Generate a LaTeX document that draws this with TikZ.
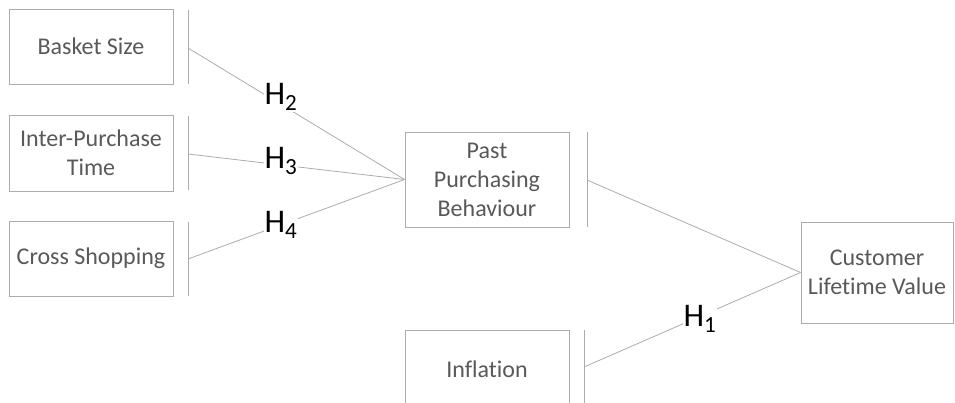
\documentclass[tikz,border=0pt]{standalone}
\usepackage{fontspec}
\setmainfont[Ligatures={NoCommon}]{Carlito}
\begin{document}
\begin{tikzpicture}[x=1pt,y=-1pt,
  box/.style={draw=gray!65,line width=0.9pt,fill=white,inner sep=0pt,
    text=black!65,align=center,font=\fontsize{24}{29}\selectfont},
  bar/.style={draw=gray!65,line width=0.9pt},
  link/.style={draw=gray!65,line width=0.8pt},
  hyp/.style={fill=white,inner sep=1pt,font=\fontsize{33}{33}\selectfont,text=black}]
\useasboundingbox (0,0) rectangle (955,403);
% construct boxes
\node[box,minimum width=164pt,minimum height=75pt] (bs) at (91,46.5) {Basket Size};
\node[box,minimum width=164pt,minimum height=76pt] (ipt) at (91,153) {Inter-Purchase\\Time};
\node[box,minimum width=164pt,minimum height=75pt] (cs) at (91,258.5) {Cross Shopping};
\node[box,minimum width=164pt,minimum height=95pt] (ppb) at (487,179.5) {Past\\Purchasing\\Behaviour};
\node[box,minimum width=152pt,minimum height=101pt] (clv) at (877,272.5) {Customer\\Lifetime Value};
\path[draw=gray!65,line width=0.9pt,fill=white] (405,410) -- (405,330) -- (569,330) -- (569,410);
\node[text=black!65,font=\fontsize{24}{29}\selectfont] (inf) at (487,369) {Inflation};
% bars beside the boxes
\draw[bar] (188,10) -- (188,84);
\draw[bar] (188,116) -- (188,190);
\draw[bar] (188,222) -- (188,296);
\draw[bar] (587,132) -- (587,227);
\draw[bar] (584,330) -- (584,403);
\coordinate (bsb) at (188,48);
\coordinate (iptb) at (188,154);
\coordinate (csb) at (188,259);
\coordinate (ppbb) at (587,180);
\coordinate (infb) at (584,367);
% paths
\draw[link] (bsb) -- (ppb.west);
\draw[link] (iptb) -- (ppb.west);
\draw[link] (csb) -- (ppb.west);
\draw[link] (ppbb) -- (clv.west);
\draw[link] (infb) -- (clv.west);
% hypotheses
\node[hyp] (h2) at (281,97) {H\textsubscript{2}};
\node[hyp] (h3) at (281,161) {H\textsubscript{3}};
\node[hyp] (h4) at (281,225) {H\textsubscript{4}};
\node[hyp] (h1) at (700,319) {H\textsubscript{1}};
\end{tikzpicture}
\end{document}
